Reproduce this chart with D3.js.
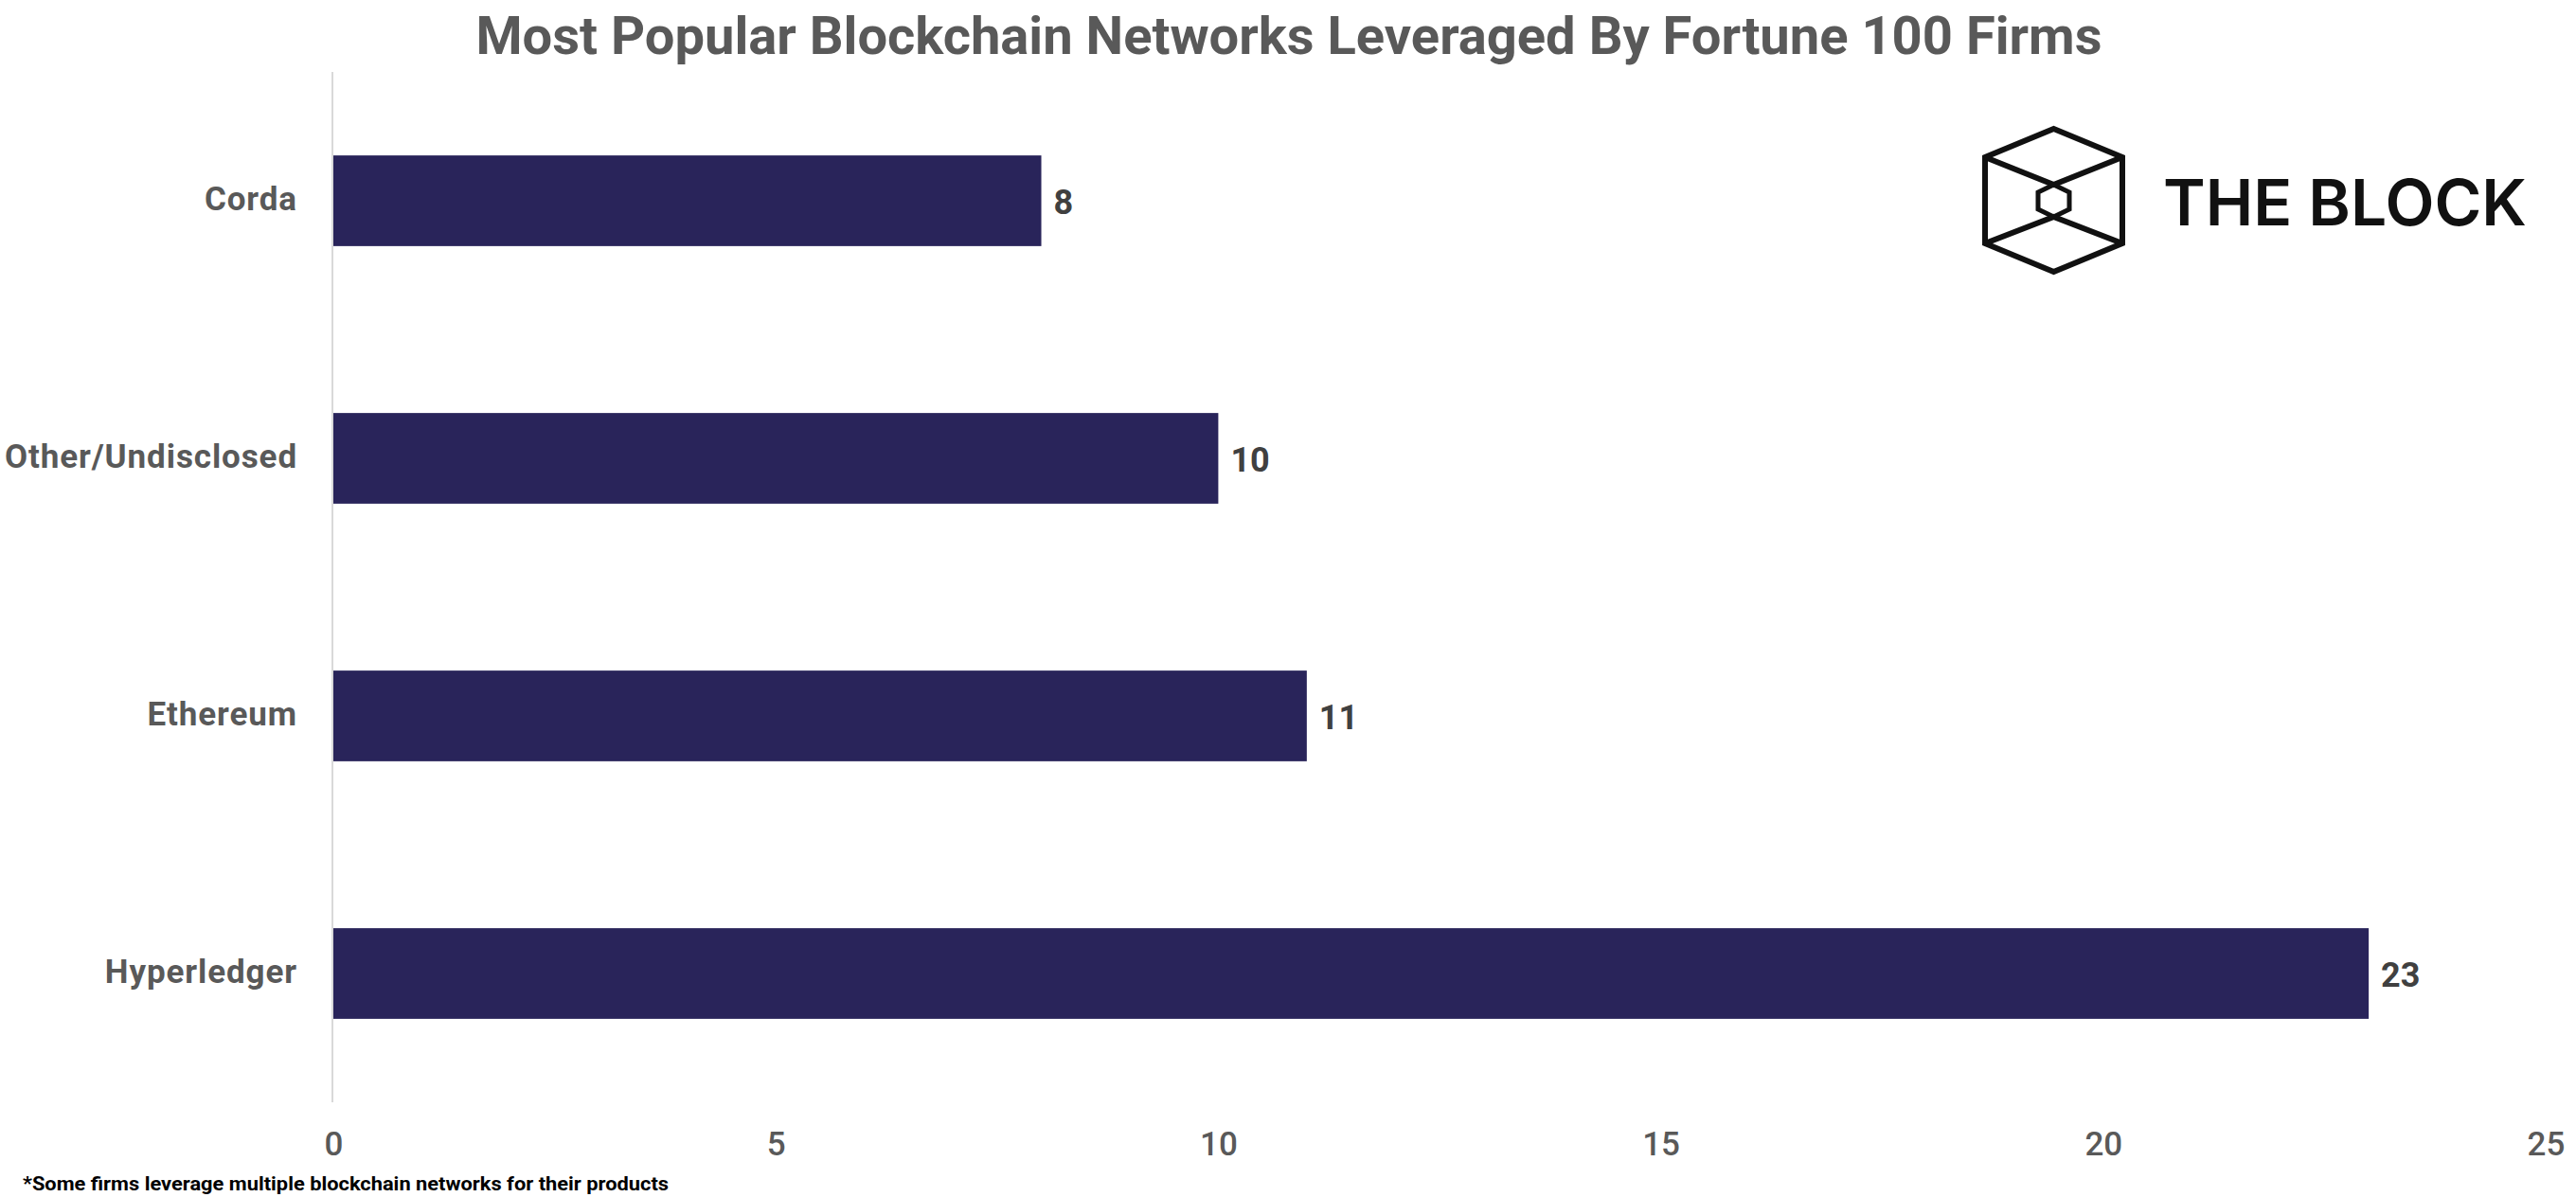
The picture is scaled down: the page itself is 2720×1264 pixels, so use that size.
<!DOCTYPE html>
<html>
<head>
<meta charset="utf-8">
<script src="https://cdn.jsdelivr.net/npm/d3@7"></script>
<style>
  html, body { margin: 0; padding: 0; background: #ffffff; }
  svg { display: block; }
</style>
</head>
<body>
<svg id="chart" width="2720" height="1264"></svg>
<script>
const categories = ["Corda", "Other/Undisclosed", "Ethereum", "Hyperledger"];
const values = [8, 10, 11, 23];
const xTicks = [0, 5, 10, 15, 20, 25];
const titleText = "Most Popular Blockchain Networks Leveraged By Fortune 100 Firms";
const footnoteText = "*Some firms leverage multiple blockchain networks for their products";
const logoText = "THE BLOCK";

const data = categories.map((c, i) => ({ cat: c, val: values[i] }));

const svg = d3.select("#chart");
const W = 2720, H = 1264;
svg.append("rect").attr("width", W).attr("height", H).attr("fill", "#ffffff");

const x = d3.scaleLinear().domain([0, 25]).range([352, 2688]);
const y = d3.scaleBand().domain(categories).range([76, 1164]).paddingInner(0.648).paddingOuter(0.324);

// Title
svg.append("text")
  .attr("x", 1361).attr("y", 57)
  .attr("text-anchor", "middle")
  .attr("font-family", "Roboto, 'Liberation Sans', sans-serif")
  .attr("font-weight", 700)
  .attr("font-size", 56)
  .attr("fill", "#595959")
  .attr("textLength", 1717)
  .attr("lengthAdjust", "spacingAndGlyphs")
  .text(titleText);

// Vertical axis line
svg.append("line")
  .attr("x1", 351).attr("x2", 351)
  .attr("y1", 76).attr("y2", 1164)
  .attr("stroke", "#d9d9d9").attr("stroke-width", 2);

// Bars
svg.append("g").selectAll("rect").data(data).join("rect")
  .attr("x", x(0))
  .attr("y", d => y(d.cat))
  .attr("width", d => x(d.val) - x(0))
  .attr("height", y.bandwidth())
  .attr("fill", "#29245a");

// Value labels
svg.append("g").selectAll("text").data(data).join("text")
  .attr("x", d => x(d.val) + 13)
  .attr("y", d => y(d.cat) + y.bandwidth() / 2)
  .attr("dy", "0.38em")
  .attr("font-family", "Roboto, 'Liberation Sans', sans-serif")
  .attr("font-weight", 700)
  .attr("font-size", 36)
  .attr("fill", "#404040")
  .text(d => d.val);

// Y axis (category labels)
const yAxis = svg.append("g")
  .attr("transform", "translate(351,0)")
  .call(d3.axisLeft(y).tickSize(0).tickPadding(37));
yAxis.select(".domain").remove();
yAxis.selectAll("text")
  .attr("font-family", "Roboto, 'Liberation Sans', sans-serif")
  .attr("font-weight", 700)
  .attr("font-size", 35)
  .attr("letter-spacing", "0.9px")
  .attr("fill", "#595959")
  .attr("dy", "0.28em");

// X axis (tick labels only)
const xAxis = svg.append("g")
  .attr("transform", "translate(0,1164)")
  .call(d3.axisBottom(x).tickValues(xTicks).tickSize(0).tickPadding(31).tickFormat(d3.format("d")));
xAxis.select(".domain").remove();
xAxis.selectAll("text")
  .attr("font-family", "Roboto, 'Liberation Sans', sans-serif")
  .attr("font-weight", 500)
  .attr("font-size", 35)
  .attr("fill", "#595959");

// Footnote
svg.append("text")
  .attr("x", 24).attr("y", 1257)
  .attr("font-family", "Roboto, 'Liberation Sans', sans-serif")
  .attr("font-weight", 700)
  .attr("font-size", 21)
  .attr("fill", "#000000")
  .attr("textLength", 682)
  .attr("lengthAdjust", "spacingAndGlyphs")
  .text(footnoteText);

// Logo
const logo = svg.append("g")
  .attr("fill", "none")
  .attr("stroke", "#111111")
  .attr("stroke-width", 6)
  .attr("stroke-linejoin", "miter");
const cx = 2168.5;
logo.append("path").attr("d",
  `M${cx},136 L2241,166 L2241,257 L${cx},287 L2096,257 L2096,166 Z`);
logo.append("path").attr("d",
  `M${cx},195 L2185,203 L2185,221 L${cx},229 L2152,221 L2152,203 Z`).attr("stroke-width", 5);
logo.append("path").attr("d",
  `M2096,166 L${cx},195 L2241,166 M2096,257 L${cx},229 L2241,257`);

svg.append("text")
  .attr("x", 2284).attr("y", 238)
  .attr("font-family", "Inter, Roboto, sans-serif")
  .attr("font-weight", 600)
  .attr("font-size", 68)
  .attr("fill", "#111111")
  .attr("textLength", 384)
  .attr("lengthAdjust", "spacingAndGlyphs")
  .text(logoText);
</script>
</body>
</html>
